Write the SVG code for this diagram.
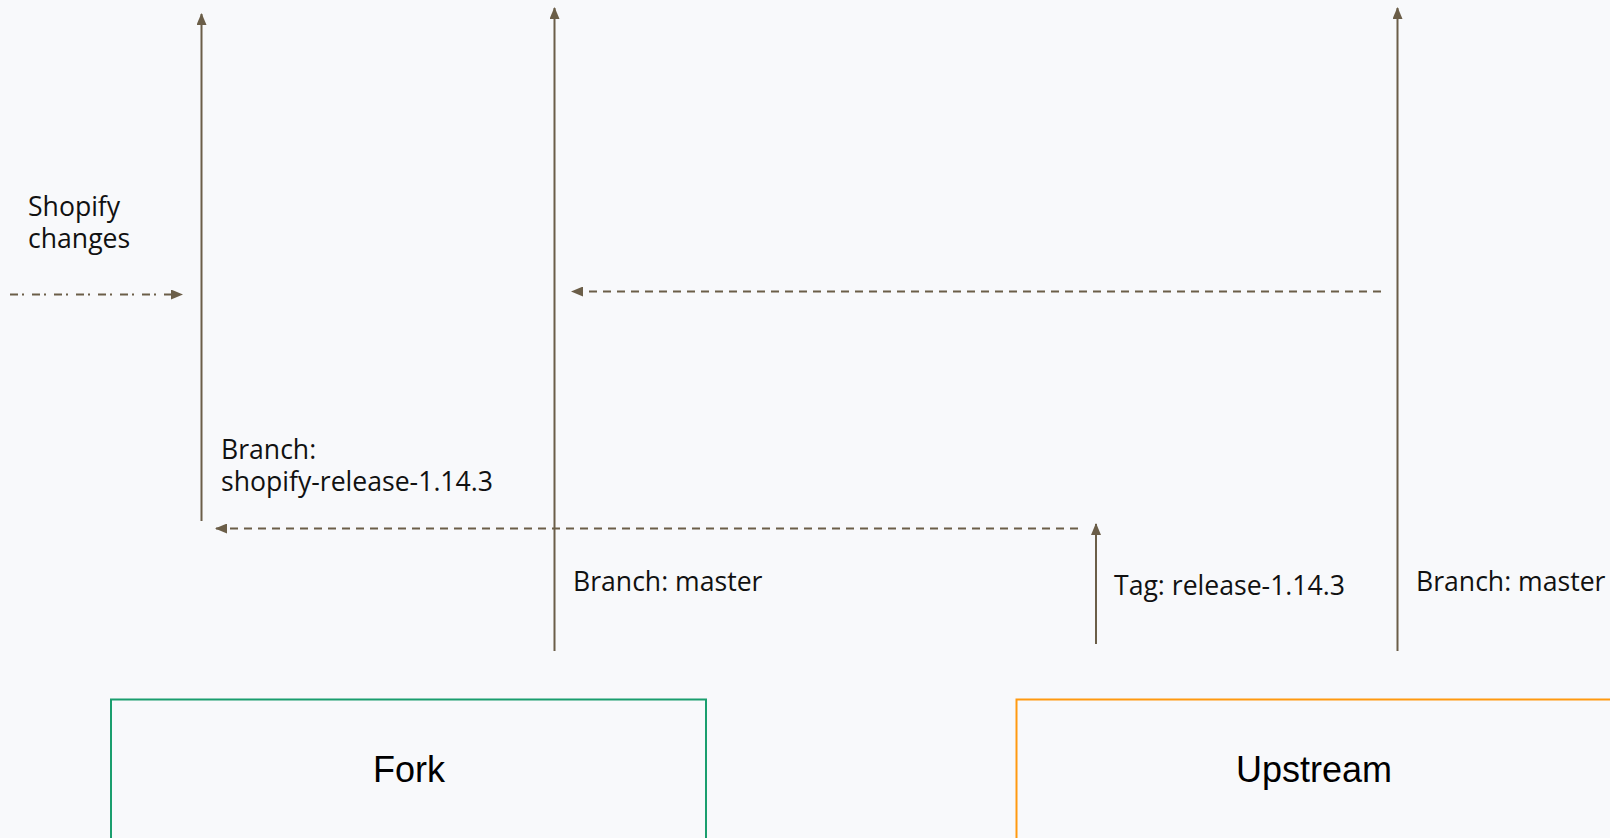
<svg xmlns="http://www.w3.org/2000/svg" width="1610" height="838" viewBox="0 0 1610 838">
  <defs>
    <marker id="arrow" viewBox="0 0 12 10" refX="11" refY="5" markerWidth="6" markerHeight="5" markerUnits="strokeWidth" orient="auto">
      <path d="M0,0 L12,5 L0,10 Z" fill="#6b5e48"/>
    </marker>
    <style>
      .flow { stroke: #6b5e48; stroke-width: 2; fill: none; }
      .dashed { stroke-dasharray: 8 6; }
      .dashdot { stroke-dasharray: 8 4 2 8; }
      .label { font-family: "Open Sans", "Noto Sans", sans-serif; font-size: 26.6px; fill: #111; }
      .title { font-family: "Liberation Sans", Arial, sans-serif; font-size: 36px; fill: #000; text-anchor: middle; }
      .box { fill: #f8f9fb; stroke-width: 2; }
    </style>
  </defs>

  <rect x="0" y="0" width="1610" height="838" fill="#f8f9fb"/>

  <g id="connectors">
    <!-- branch / tag history lines -->
    <line class="flow" x1="201.5" y1="521" x2="201.5" y2="14" marker-end="url(#arrow)"/>
    <line class="flow" x1="554.5" y1="651" x2="554.5" y2="8" marker-end="url(#arrow)"/>
    <line class="flow" x1="1397.5" y1="651" x2="1397.5" y2="8" marker-end="url(#arrow)"/>
    <line class="flow" x1="1096" y1="644" x2="1096" y2="524" marker-end="url(#arrow)"/>
    <!-- merges -->
    <line class="flow dashed" x1="1381" y1="291.5" x2="572" y2="291.5" marker-end="url(#arrow)"/>
    <line class="flow dashed" x1="1078" y1="528.5" x2="216" y2="528.5" marker-end="url(#arrow)"/>
    <line class="flow dashdot" x1="10" y1="294.5" x2="182" y2="294.5" marker-end="url(#arrow)"/>
  </g>

  <g id="label-shopify-changes">
    <text class="label" x="28" y="216">Shopify</text>
    <text class="label" x="28" y="248">changes</text>
  </g>
  <g id="label-fork-release">
    <text class="label" x="221" y="459">Branch:</text>
    <text class="label" x="221" y="491">shopify-release-1.14.3</text>
  </g>
  <g id="label-fork-master">
    <text class="label" x="573" y="591">Branch: master</text>
  </g>
  <g id="label-upstream-tag">
    <text class="label" x="1114" y="595">Tag: release-1.14.3</text>
  </g>
  <g id="label-upstream-master">
    <text class="label" x="1416" y="591">Branch: master</text>
  </g>

  <g id="fork">
    <rect class="box" x="111" y="699.5" width="595" height="160" stroke="#1a9e6e"/>
    <text class="title" x="409" y="782">Fork</text>
  </g>
  <g id="upstream">
    <rect class="box" x="1016.5" y="699.5" width="620" height="160" stroke="#ff9a10"/>
    <text class="title" x="1314" y="782">Upstream</text>
  </g>
</svg>
